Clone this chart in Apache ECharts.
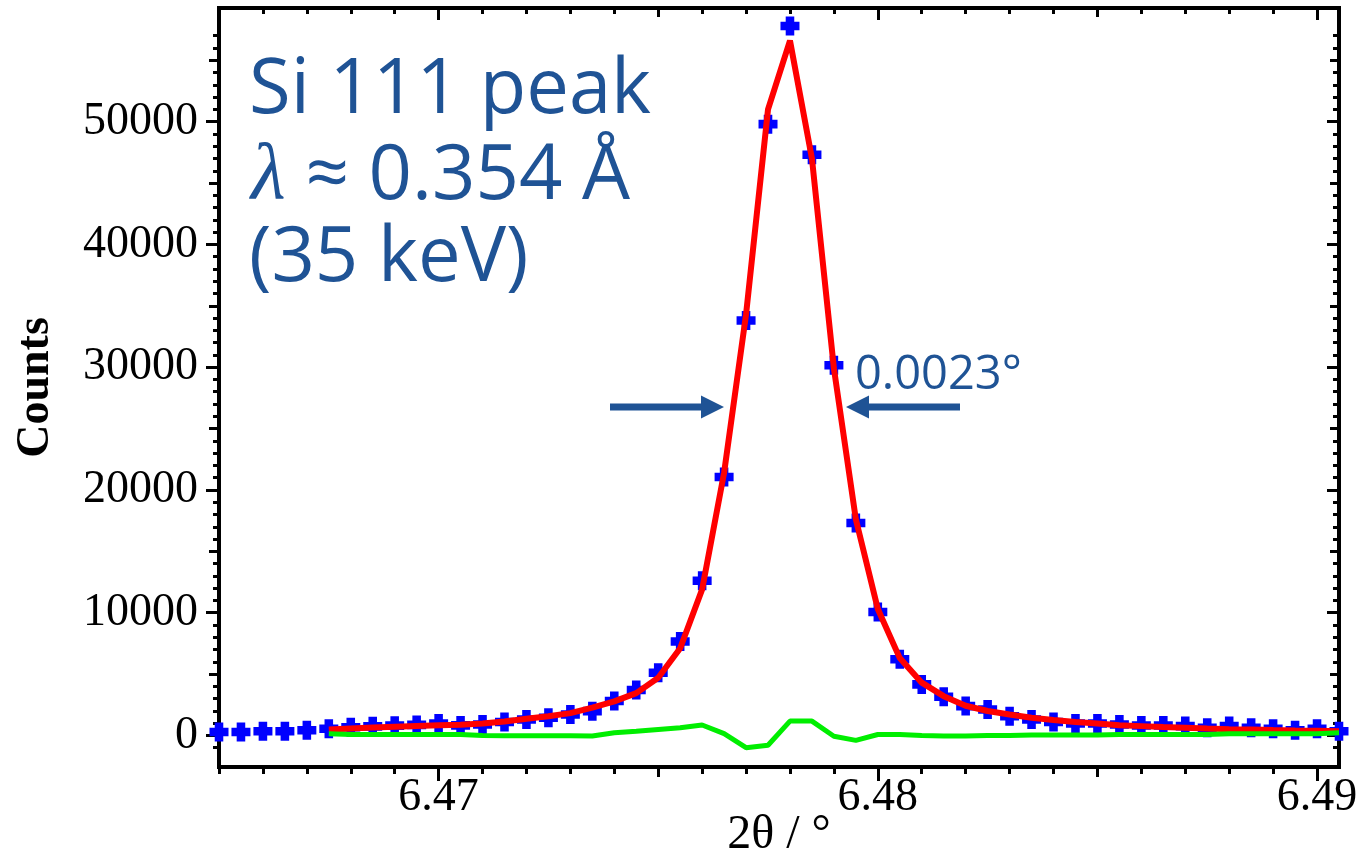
<!DOCTYPE html>
<html>
<head>
<meta charset="utf-8">
<script src="https://cdn.jsdelivr.net/npm/echarts@6/dist/echarts.min.js"></script>
<style>
html,body{margin:0;padding:0;background:#ffffff;}
#chart{width:1361px;height:849px;}
</style>
</head>
<body>
<div id="chart"></div>
<script>
// ---------- data ----------
const twoTheta = [
  6.4650, 6.4655, 6.4660, 6.4665, 6.4670, 6.4675, 6.4680, 6.4685, 6.4690, 6.4695,
  6.4700, 6.4705, 6.4710, 6.4715, 6.4720, 6.4725, 6.4730, 6.4735, 6.4740, 6.4745,
  6.4750, 6.4755, 6.4760, 6.4765, 6.4770, 6.4775, 6.4780, 6.4785, 6.4790, 6.4795,
  6.4800, 6.4805, 6.4810, 6.4815, 6.4820, 6.4825, 6.4830, 6.4835, 6.4840, 6.4845,
  6.4850, 6.4855, 6.4860, 6.4865, 6.4870, 6.4875, 6.4880, 6.4885, 6.4890, 6.4895,
  6.4900, 6.4905
];
const observedCounts = [
  280, 280, 340, 340, 420, 540, 660, 740, 800, 860,
  980, 820, 900, 1090, 1300, 1440, 1710, 1980, 2800, 3700,
  5110, 7650, 12600, 21050, 33800, 49800, 57800, 47300, 30150, 17300,
  10060, 6200, 4160, 3150, 2390, 2120, 1570, 1300, 1090, 980,
  980, 900, 815, 815, 760, 630, 760, 630, 550, 430,
  550, 350
];
const fitCounts = [
  null, null, null, null, null, 490, 570, 650, 710, 770,
  830, 880, 980, 1140, 1360, 1570, 1820, 2260, 2780, 3450,
  4700, 7100, 11900, 21400, 34300, 51000, 56600, 47000, 29900, 17600,
  10300, 6300, 4300, 3200, 2420, 1990, 1710, 1440, 1250, 1090,
  980, 840, 760, 680, 630, 560, 500, 480, 440, 410,
  390, 350
];
const residualCounts = [
  null, null, null, null, null, 140, 80, 80, 80, 80,
  80, 80, 0, -30, -30, -30, -30, -50, 220, 350,
  490, 630, 850, 150, -1000, -800, 1170, 1170, -60, -400,
  80, 80, 0, -50, -50, 0, 0, 40, 40, 40,
  40, 80, 80, 80, 80, 80, 130, 130, 130, 130,
  130, 220
];
const xTickLabels = [6.47, 6.48, 6.49];
const yTickLabels = [0, 10000, 20000, 30000, 40000, 50000];
const xAxisName = '2θ / °';
const yAxisName = 'Counts';
const noteLines = ['Si 111 peak', 'λ ≈ 0.354 Å', '(35 keV)'];
const fwhmNote = '0.0023°';

// ---------- axis extents & tick positions ----------
const X_MIN = 6.465, X_MAX = 6.4905;
const Y_MIN = -2570, Y_MAX = 59260;
const r4 = v => Math.round(v * 10000) / 10000;
const xMedTicks = [6.475, 6.485];
const xMinorTicks = [];
for (let i = 0; i <= 25; i++) { if (i % 5 !== 0) xMinorTicks.push(r4(6.465 + i * 0.001)); }
xMinorTicks.unshift(6.465);
const yMedTicks = [];
for (let v = 5000; v <= 55000; v += 10000) yMedTicks.push(v);
const yMinorTicks = [];
for (let v = -1000; v <= 57000; v += 1000) { if (v % 5000 !== 0) yMinorTicks.push(v); }

const BLACK = '#000000';
const NOTE = '#1f5395';
const SERIF = '"Liberation Serif", "Times New Roman", serif';
const SANS = '"Open Sans", "Noto Sans", sans-serif';

function makeAxis(dim, pos, ticks, len, inside, showLine, extra) {
  const ax = {
    type: 'value', gridIndex: 0, position: pos,
    min: dim === 'x' ? X_MIN : Y_MIN,
    max: dim === 'x' ? X_MAX : Y_MAX,
    axisLine: { show: showLine, onZero: false, lineStyle: { color: BLACK, width: 4 } },
    axisTick: { show: true, inside: inside, length: len, customValues: ticks,
                lineStyle: { color: BLACK, width: 3 } },
    axisLabel: { show: false },
    splitLine: { show: false },
    minorTick: { show: false },
    minorSplitLine: { show: false },
    axisPointer: { show: false },
    silent: true, z: 1
  };
  return Object.assign(ax, extra || {});
}

const xAxes = [
  makeAxis('x', 'bottom', xTickLabels, 14, false, true, {
    axisLabel: { show: true, customValues: xTickLabels, margin: 8,
                 formatter: v => String(v),
                 fontFamily: SERIF, fontSize: 46, color: BLACK },
    name: xAxisName, nameLocation: 'middle', nameGap: 44, nameMoveOverlap: false,
    nameTextStyle: { fontFamily: SERIF, fontSize: 48, color: BLACK }
  }),
  makeAxis('x', 'bottom', xMedTicks, 10, false, false),
  makeAxis('x', 'bottom', xMinorTicks, 7, false, false),
  makeAxis('x', 'top', xTickLabels, 12, true, true),
  makeAxis('x', 'top', xMedTicks, 9, true, false),
  makeAxis('x', 'top', xMinorTicks, 6, true, false)
];
const yAxes = [
  makeAxis('y', 'left', yTickLabels, 13, false, true, {
    axisLabel: { show: true, customValues: yTickLabels, margin: 21,
                 formatter: v => String(v), padding: [12, 0, 0, 0],
                 fontFamily: SERIF, fontSize: 46, color: BLACK },
    name: yAxisName, nameLocation: 'middle', nameGap: 160, nameMoveOverlap: false,
    nameTextStyle: { fontFamily: SERIF, fontSize: 46, fontWeight: 'bold', color: BLACK }
  }),
  makeAxis('y', 'left', yMedTicks, 10, false, false),
  makeAxis('y', 'left', yMinorTicks, 6, false, false),
  makeAxis('y', 'right', yTickLabels, 12, true, true),
  makeAxis('y', 'right', yMedTicks, 9, true, false),
  makeAxis('y', 'right', yMinorTicks, 6, true, false)
];

const obsData = twoTheta.map((t, i) => [t, observedCounts[i]]);
const fitData = twoTheta.map((t, i) => [t, fitCounts[i]]).filter(p => p[1] !== null);
const resData = twoTheta.map((t, i) => [t, residualCounts[i]]).filter(p => p[1] !== null);

const plus = 'path://M4.4,0H11.6V4.4H16V11.6H11.6V16H4.4V11.6H0V4.4H4.4Z';

const chart = echarts.init(document.getElementById('chart'), null, { renderer: 'canvas' });
chart.setOption({
  backgroundColor: '#ffffff',
  animation: false,
  grid: { left: 219, right: 22, top: 8, bottom: 82, containLabel: false, outerBoundsMode: 'none',
          show: true, borderColor: BLACK, borderWidth: 4, backgroundColor: 'transparent' },
  xAxis: xAxes,
  yAxis: yAxes,
  series: [
    { type: 'scatter', name: 'observed', xAxisIndex: 0, yAxisIndex: 0, data: obsData,
      symbol: plus, symbolSize: 19, itemStyle: { color: '#0000ff', opacity: 1 }, clip: false, z: 2, silent: true },
    { type: 'line', name: 'fit', xAxisIndex: 0, yAxisIndex: 0, data: fitData,
      showSymbol: false, symbol: 'none', lineStyle: { color: '#ff0000', width: 6 }, clip: false, z: 3, silent: true },
    { type: 'line', name: 'difference', xAxisIndex: 0, yAxisIndex: 0, data: resData,
      showSymbol: false, symbol: 'none', lineStyle: { color: '#00ee00', width: 5 }, clip: false, z: 4, silent: true }
  ],
  graphic: [
    { type: 'text', x: 249, y: 91, z: 10, silent: true,
      style: { text: noteLines[0], fontFamily: SANS, fontSize: 76, fill: NOTE, align: 'left', verticalAlign: 'middle' } },
    { type: 'text', x: 251, y: 177, z: 10, silent: true,
      style: { text: '{l|' + noteLines[1].slice(0, 1) + '}' + noteLines[1].slice(1),
               fontFamily: SANS, fontSize: 76, fill: NOTE, align: 'left', verticalAlign: 'middle',
               rich: { l: { fontFamily: SERIF, fontStyle: 'italic', fontSize: 80, fill: NOTE } } } },
    { type: 'text', x: 249, y: 259, z: 10, silent: true,
      style: { text: noteLines[2], fontFamily: SANS, fontSize: 76, fill: NOTE, align: 'left', verticalAlign: 'middle' } },
    { type: 'text', x: 855, y: 376, z: 10, silent: true,
      style: { text: fwhmNote, fontFamily: SANS, fontSize: 47, fill: NOTE, align: 'left', verticalAlign: 'middle' } },
    { type: 'polygon', z: 10, silent: true,
      shape: { points: [[610,403.5],[701,403.5],[701,395.5],[724,407],[701,418.5],[701,410.5],[610,410.5]] },
      style: { fill: NOTE } },
    { type: 'polygon', z: 10, silent: true,
      shape: { points: [[960,403.5],[869,403.5],[869,395.5],[846,407],[869,418.5],[869,410.5],[960,410.5]] },
      style: { fill: NOTE } }
  ]
});
</script>
</body>
</html>
